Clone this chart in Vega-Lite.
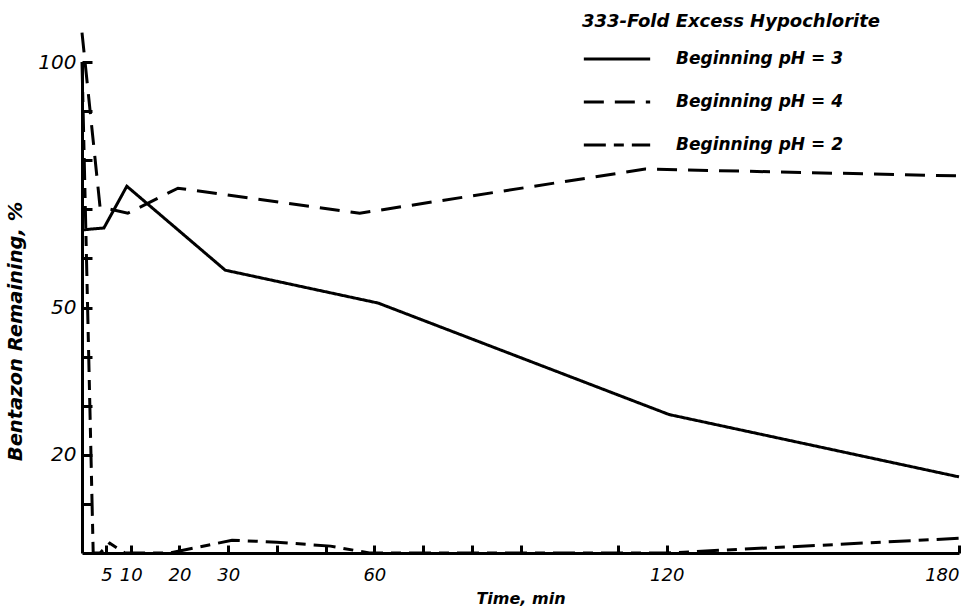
{
  "$schema": "https://vega.github.io/schema/vega-lite/v6.json",
  "width": 877,
  "height": 491,
  "autosize": {"type": "none"},
  "padding": {"left": 82, "top": 62, "right": 5, "bottom": 62},
  "background": "white",
  "config": {
    "view": {"stroke": null},
    "font": "DejaVu Sans",
    "axis": {"labelFont": "DejaVu Sans", "titleFont": "DejaVu Sans", "labelFontStyle": "italic", "titleFontStyle": "italic", "labelColor": "black", "titleColor": "black", "domainColor": "black", "tickColor": "black", "grid": false}
  },
  "data": {
    "values": [
      {"t": 0, "v": 65.8, "s": "Beginning pH = 3"},
      {"t": 4.5, "v": 66.2, "s": "Beginning pH = 3"},
      {"t": 9.2, "v": 74.7, "s": "Beginning pH = 3"},
      {"t": 29.4, "v": 57.6, "s": "Beginning pH = 3"},
      {"t": 60.8, "v": 50.9, "s": "Beginning pH = 3"},
      {"t": 120.5, "v": 28.2, "s": "Beginning pH = 3"},
      {"t": 180, "v": 15.5, "s": "Beginning pH = 3"},
      {"t": 0, "v": 106, "s": "Beginning pH = 4"},
      {"t": 3.7, "v": 70.5, "s": "Beginning pH = 4"},
      {"t": 9.4, "v": 69.2, "s": "Beginning pH = 4"},
      {"t": 19.7, "v": 74.3, "s": "Beginning pH = 4"},
      {"t": 57, "v": 69.2, "s": "Beginning pH = 4"},
      {"t": 115.6, "v": 78.2, "s": "Beginning pH = 4"},
      {"t": 180, "v": 76.8, "s": "Beginning pH = 4"},
      {"t": 0, "v": 100, "s": "Beginning pH = 2"},
      {"t": 2.3, "v": 0, "s": "Beginning pH = 2"},
      {"t": 3.7, "v": 0, "s": "Beginning pH = 2"},
      {"t": 5.7, "v": 2, "s": "Beginning pH = 2"},
      {"t": 8.8, "v": 0, "s": "Beginning pH = 2"},
      {"t": 18, "v": 0, "s": "Beginning pH = 2"},
      {"t": 30.8, "v": 2.6, "s": "Beginning pH = 2"},
      {"t": 40, "v": 2.2, "s": "Beginning pH = 2"},
      {"t": 51, "v": 1.4, "s": "Beginning pH = 2"},
      {"t": 59, "v": 0, "s": "Beginning pH = 2"},
      {"t": 120, "v": 0, "s": "Beginning pH = 2"},
      {"t": 180, "v": 3, "s": "Beginning pH = 2"}
    ]
  },
  "mark": {"type": "line", "color": "black", "strokeWidth": 3, "clip": false},
  "encoding": {
    "x": {
      "field": "t", "type": "quantitative",
      "scale": {"domain": [0, 180], "nice": false, "zero": false},
      "axis": {
        "title": "Time, min",
        "values": [5, 10, 20, 30, 40, 50, 60, 70, 80, 90, 110, 120, 180],
        "labelExpr": "indexof([5,10,20,30,60,120,180], datum.value) >= 0 ? datum.label : ''",
        "tickSize": -8, "tickWidth": 3, "domainWidth": 3,
        "labelFontSize": 18, "labelPadding": 21, "labelFlush": true, "labelOverlap": false,
        "titleFontSize": 16, "titleFontWeight": "bold", "titlePadding": 6
      }
    },
    "y": {
      "field": "v", "type": "quantitative",
      "scale": {"domain": [0, 100], "nice": false},
      "axis": {
        "title": "Bentazon Remaining, %",
        "values": [10, 20, 30, 40, 50, 60, 70, 80, 90, 100],
        "labelExpr": "indexof([20,50,100], datum.value) >= 0 ? datum.label : ''",
        "tickSize": -10, "tickWidth": 3, "domainWidth": 3,
        "labelFontSize": 20, "labelPadding": 16, "labelFlush": false, "labelOverlap": false,
        "titleFontSize": 19.5, "titleFontWeight": "bold",
        "titleX": -67, "titleY": 269, "titleAlign": "center", "titleBaseline": "middle"
      }
    },
    "strokeDash": {
      "field": "s", "type": "nominal",
      "scale": {
        "domain": ["Beginning pH = 3", "Beginning pH = 4", "Beginning pH = 2"],
        "range": [[1, 0], [20, 11], [22, 8, 10, 8]]
      },
      "legend": {
        "title": "333-Fold Excess Hypochlorite",
        "orient": "none", "legendX": 500, "legendY": -49, "padding": 0,
        "titleFont": "DejaVu Sans", "titleFontSize": 18, "titleFontWeight": "bold", "titleFontStyle": "italic", "titleColor": "black", "titlePadding": -7, "titleLimit": 600,
        "labelFont": "DejaVu Sans", "labelFontSize": 17, "labelFontWeight": "bold", "labelFontStyle": "italic", "labelColor": "black", "labelOffset": 24, "labelLimit": 400,
        "symbolType": "stroke", "symbolSize": 4400, "symbolStrokeWidth": 3, "symbolStrokeColor": "black",
        "rowPadding": 0
      }
    }
  }
}
